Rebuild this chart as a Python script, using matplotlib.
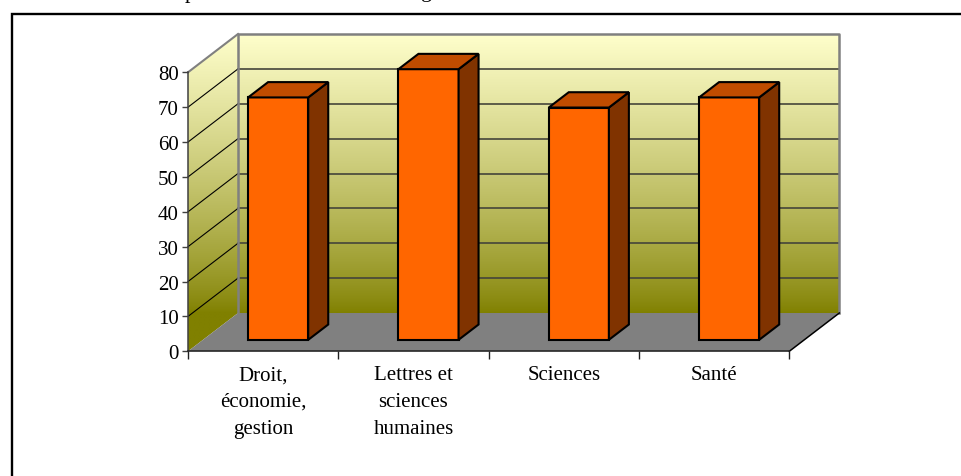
import numpy as np
import matplotlib
matplotlib.use("Agg")
import matplotlib.pyplot as plt
from matplotlib.patches import Polygon
from matplotlib.lines import Line2D

categories = ["Droit,\néconomie,\ngestion", "Lettres et\nsciences\nhumaines", "Sciences", "Santé"]
values = [69.5, 77.6, 66.6, 69.5]
y_ticks = [0, 10, 20, 30, 40, 50, 60, 70, 80]
grid_levels = [10, 20, 30, 40, 50, 60, 70]

plt.rcParams['font.family'] = ['Liberation Serif', 'DejaVu Serif']

W, H = 961, 477
fig = plt.figure(figsize=(W / 100, H / 100), dpi=100)
fig.patch.set_facecolor("white")

# front plane of the 3d box: x = category, y = value
ax = fig.add_axes([188 / W, 1 - 352.3 / H, (789.3 - 188) / W, (352.3 - 73.3) / H])
ax.patch.set_visible(False)

# oblique depth shift (full depth) in data units
DX, DY = 50 / 150.3, 38.3 / 3.4875
x = np.arange(len(categories))
x_lo, x_hi, v_max = -0.5, len(categories) - 0.5, 80

# walls with the yellow -> olive gradient
yy = np.linspace(v_max + DY, 0, 300)
t = np.clip((yy - DY) / v_max, 0, 1) ** 0.8
light = np.array([255, 255, 204]) / 255
olive = np.array([128, 128, 0]) / 255
grad = olive[None, :] + t[:, None] * (light - olive)[None, :]
grad = np.repeat(grad[:, None, :], 2, axis=1)
im = ax.imshow(grad, extent=(x_lo, x_hi + DX, 0, v_max + DY), aspect="auto",
               zorder=0.5, interpolation="bilinear")
walls = Polygon([(x_lo, 0), (x_lo, v_max), (x_lo + DX, v_max + DY), (x_hi + DX, v_max + DY),
                 (x_hi + DX, DY), (x_lo + DX, DY)], closed=True, fc="none", ec="none",
                transform=ax.transData)
ax.add_patch(walls)
walls.set_clip_on(False)
im.set_clip_box(fig.bbox)
im.set_clip_path(walls)

# floor
floor = Polygon([(x_lo, 0), (x_hi, 0), (x_hi + DX, DY), (x_lo + DX, DY)], closed=True,
                fc="#808080", ec="none", zorder=0.6, clip_on=False)
ax.add_patch(floor)

# gridlines on back wall and side wall
for v in grid_levels:
    ax.plot([x_lo + DX, x_hi + DX], [v + DY, v + DY], color="#45453a", lw=1.2,
            zorder=0.8, clip_on=False)
    ax.plot([x_lo, x_lo + DX], [v, v + DY], color="black", lw=0.8, zorder=0.8, clip_on=False)

# wall edges
ax.plot([x_lo + DX, x_lo + DX, x_hi + DX, x_hi + DX], [DY, v_max + DY, v_max + DY, DY],
        color="#808080", lw=1.8, zorder=0.9, clip_on=False)
ax.plot([x_lo, x_lo + DX], [v_max, v_max + DY], color="#808080", lw=1.5, zorder=0.9, clip_on=False)
ax.plot([x_hi, x_hi + DX], [0, DY], color="black", lw=1.1, zorder=0.9, clip_on=False)

# bars: front face via ax.bar, top and side as polygons
d0, depth, width = 0.3, 0.4, 0.4
base = d0 * DY
ax.bar(x + d0 * DX, values, width=width, bottom=base, color="#FF6600",
       edgecolor="black", linewidth=1.5, zorder=5, clip_on=False)
ddx, ddy = depth * DX, depth * DY
for xc, v in zip(x, values):
    x0 = xc + d0 * DX - width / 2
    x1 = x0 + width
    ytop = v + base
    top = Polygon([(x0, ytop), (x1, ytop), (x1 + ddx, ytop + ddy), (x0 + ddx, ytop + ddy)],
                  closed=True, fc="#C04C00", ec="black", lw=1.5, zorder=5, clip_on=False,
                  joinstyle="miter")
    side = Polygon([(x1, base), (x1, ytop), (x1 + ddx, ytop + ddy), (x1 + ddx, base + ddy)],
                   closed=True, fc="#803300", ec="black", lw=1.5, zorder=5, clip_on=False,
                   joinstyle="miter")
    ax.add_patch(side)
    ax.add_patch(top)

ax.set_xlim(x_lo, x_hi)
ax.set_ylim(0, v_max)

for s in ["top", "right"]:
    ax.spines[s].set_visible(False)
ax.spines["left"].set_color("#404040")
ax.spines["left"].set_linewidth(1.1)
ax.spines["bottom"].set_color("#202020")
ax.spines["bottom"].set_linewidth(1.1)

ax.set_yticks(y_ticks)
ax.tick_params(axis="y", direction="out", length=4.3, width=1, color="#404040",
               labelsize=15, pad=2.5)
ax.set_xticks(np.arange(x_lo, x_hi + 0.5, 1))
ax.set_xticklabels([])
ax.tick_params(axis="x", which="major", direction="out", length=5.5, width=1, color="#202020")
ax.set_xticks(x, minor=True)
ax.set_xticklabels(categories, minor=True)
ax.tick_params(axis="x", which="minor", length=0, labelsize=15, pad=10)
for lbl in ax.get_xticklabels(minor=True):
    lbl.set_linespacing(1.55)

# outer frame of the embedded chart
fig.add_artist(Line2D([11.5 / W, 11.5 / W, 1], [0, 1 - 14.7 / H, 1 - 14.7 / H],
                      transform=fig.transFigure, color="black", lw=1.7,
                      solid_joinstyle="miter"))
# descenders of the cut-off line above the chart
fig.text(190 / W, 1 + 1.5 / H, "p", ha="center", va="baseline", fontsize=16)
fig.text(427 / W, 1 + 3 / H, "g", ha="center", va="baseline", fontsize=16)

fig.savefig("out.png", dpi=100)
